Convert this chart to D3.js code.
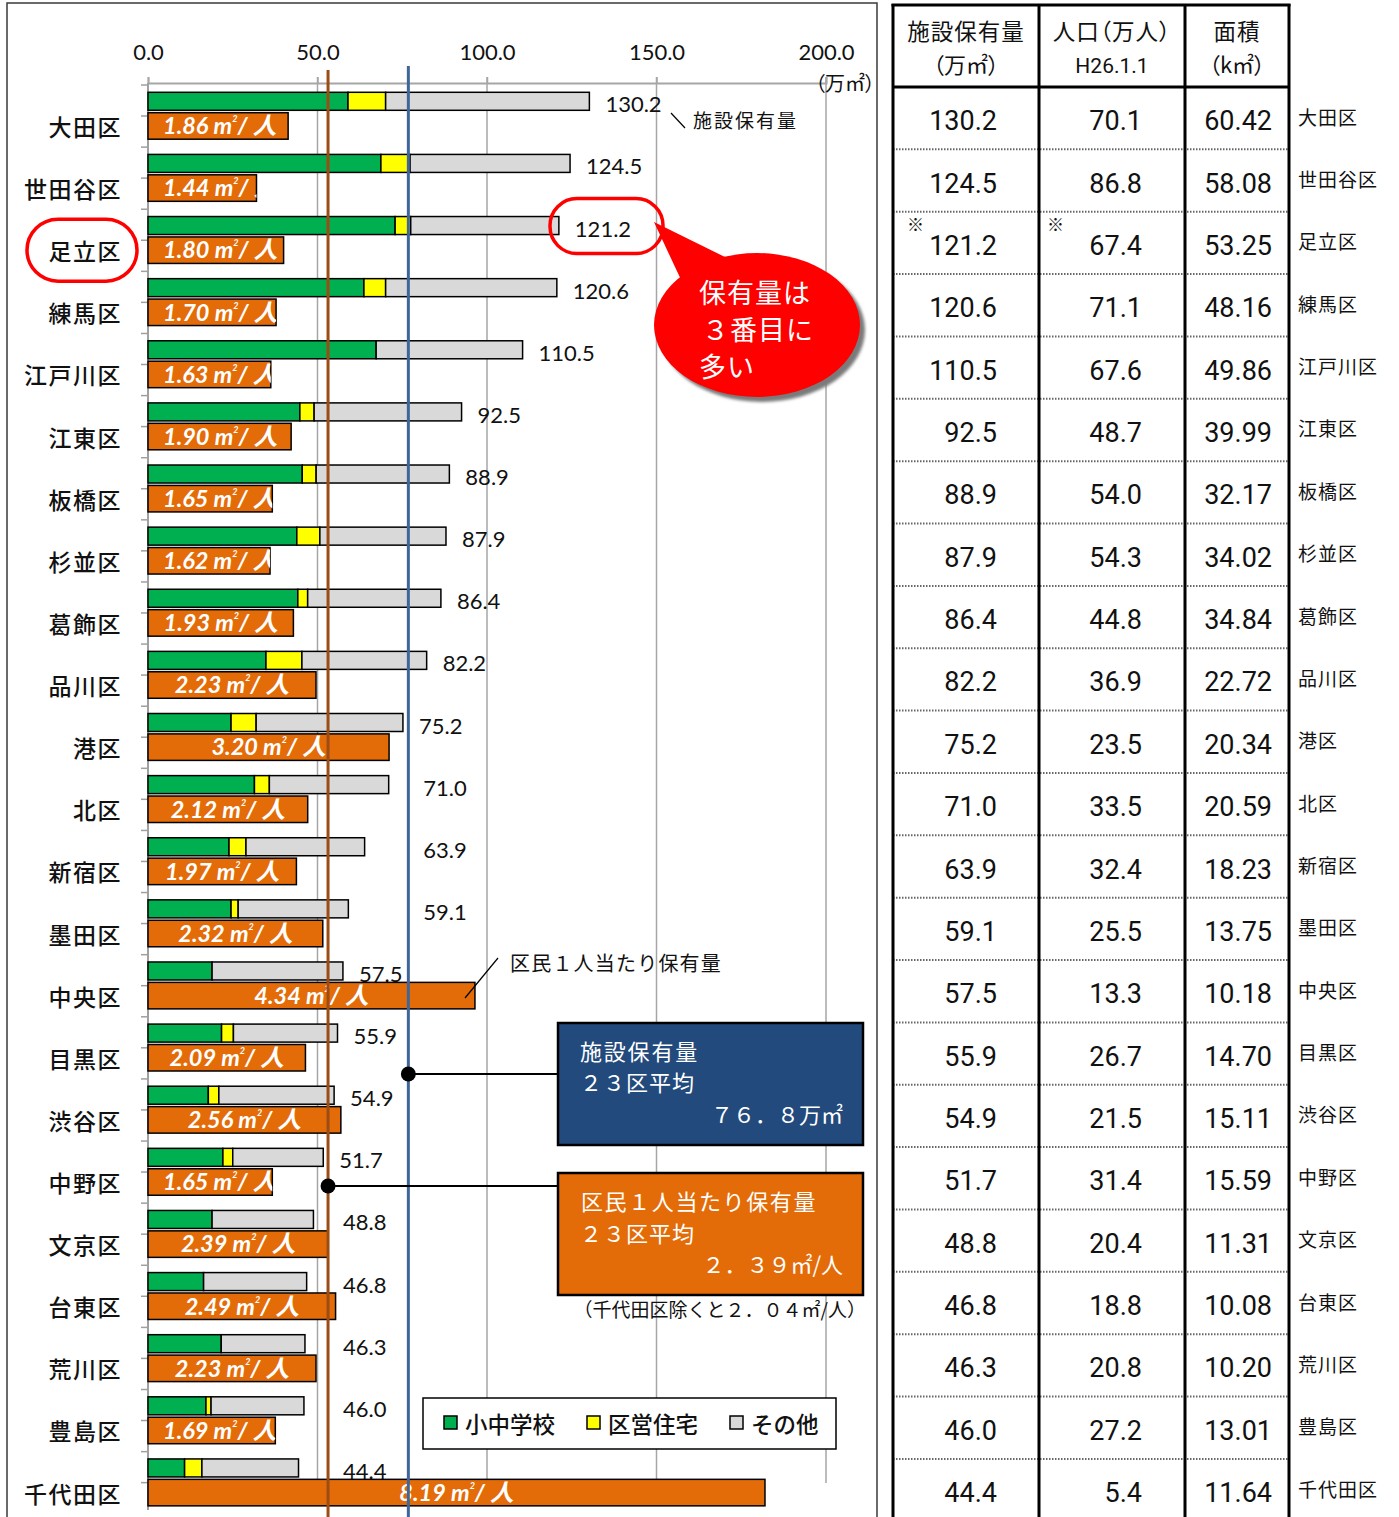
<!DOCTYPE html>
<html>
<head>
<meta charset="utf-8">
<script src="https://cdn.jsdelivr.net/npm/d3@7"></script>
<style>
  body { margin: 0; background: #fff; }
  svg { display: block; }
  .jp { font-family: "Noto Sans CJK JP", sans-serif; }
  .palt { font-feature-settings: "palt"; }
</style>
</head>
<body>
<svg id="chart" width="1399" height="1517"></svg>
<script>
// ---- data: 23 wards, sorted by facility floor area ----
const districts = ["大田区","世田谷区","足立区","練馬区","江戸川区","江東区","板橋区","杉並区","葛飾区","品川区","港区","北区","新宿区","墨田区","中央区","目黒区","渋谷区","中野区","文京区","台東区","荒川区","豊島区","千代田区"];
const totalArea   = [130.2,124.5,121.2,120.6,110.5,92.5,88.9,87.9,86.4,82.2,75.2,71.0,63.9,59.1,57.5,55.9,54.9,51.7,48.8,46.8,46.3,46.0,44.4];
const schoolArea  = [59.0,68.7,72.9,63.7,67.3,44.8,45.5,43.9,44.2,34.8,24.5,31.4,23.9,24.5,18.9,21.7,17.8,22.1,18.9,16.4,21.6,17.1,10.8];
const housingArea = [11.1,8.6,4.6,6.4,0,4.2,4.1,6.8,2.9,10.6,7.4,4.4,5.0,2.1,0,3.5,3.1,2.9,0,0,0,1.5,5.1];
const perCapita   = [1.86,1.44,1.80,1.70,1.63,1.90,1.65,1.62,1.93,2.23,3.20,2.12,1.97,2.32,4.34,2.09,2.56,1.65,2.39,2.49,2.23,1.69,8.19];
const population  = [70.1,86.8,67.4,71.1,67.6,48.7,54.0,54.3,44.8,36.9,23.5,33.5,32.4,25.5,13.3,26.7,21.5,31.4,20.4,18.8,20.8,27.2,5.4];
const landArea    = [60.42,58.08,53.25,48.16,49.86,39.99,32.17,34.02,34.84,22.72,20.34,20.59,18.23,13.75,10.18,14.70,15.11,15.59,11.31,10.08,10.20,13.01,11.64];
const xTicks = [0, 50, 100, 150, 200];
const perCapitaMax = 9;            // secondary scale for the per-person bars
const avgTotal = 76.8;             // 23-ward average floor area
const avgPerCapita = 2.39;         // 23-ward average per person
const avgPerCapitaExChiyoda = "２．０４";
const seriesKeys = ["school", "housing", "other"];
const seriesNames = ["小中学校", "区営住宅", "その他"];
const seriesColors = ["#00b050", "#ffff00", "#d9d9d9"];
const tableHeaders = [["施設保有量", "（万㎡）"], ["人口（万人）", "H26.1.1"], ["面積", "（k㎡）"]];
const markedWard = "足立区";
const bubbleLines = ["保有量は", "３番目に", "多い"];

const rows = districts.map((d, i) => ({
  district: d,
  school: schoolArea[i],
  housing: housingArea[i],
  other: +(totalArea[i] - schoolArea[i] - housingArea[i]).toFixed(1),
  total: totalArea[i],
  perCapita: perCapita[i],
  population: population[i],
  area: landArea[i]
}));

const svg = d3.select("#chart");
const JP = '"Noto Sans CJK JP", sans-serif';
const NUM = 'Lato, "Noto Sans CJK JP", sans-serif';

svg.append("defs").append("filter").attr("id", "soft")
  .append("feGaussianBlur").attr("stdDeviation", 1.5);

// ---- scales ----
const x = d3.scaleLinear().domain([0, 200]).range([148, 826]);
const xp = d3.scaleLinear().domain([0, perCapitaMax]).range([148, 826]);
const y = d3.scaleBand().domain(districts).range([83, 83 + 23 * 62.12]);
const ty = d3.scaleBand().domain(districts).range([87, 87 + 23 * 62.36]);
const greenOff = 9.3, greenH = 18, orangeOff = 29.7, orangeH = 26.5;

// ---- left panel frame ----
svg.append("rect").attr("x", 7).attr("y", 3).attr("width", 870).attr("height", 1540)
  .attr("fill", "#fff").attr("stroke", "#3a3a3a").attr("stroke-width", 1.5);

// gridlines
svg.append("g").selectAll("line").data(xTicks.filter(d => d > 0)).join("line")
  .attr("x1", d => x(d)).attr("x2", d => x(d)).attr("y1", 77).attr("y2", 1483)
  .attr("stroke", "#a6a6a6").attr("stroke-width", 1.5);

// top axis
const axisG = svg.append("g").attr("transform", "translate(0,83)")
  .call(d3.axisTop(x).tickValues(xTicks).tickFormat(d3.format(".1f")).tickSize(6).tickPadding(17));
axisG.select(".domain").attr("stroke", "#a6a6a6").attr("stroke-width", 2);
axisG.selectAll(".tick line").attr("stroke", "#a6a6a6").attr("stroke-width", 1.5);
axisG.selectAll(".tick text").attr("font-family", NUM).attr("font-size", 22).attr("fill", "#111");
svg.append("text").attr("class", "jp palt").attr("x", 875).attr("y", 91).attr("text-anchor", "end")
  .attr("font-size", 20).attr("fill", "#111").text("（万㎡）");

// category axis
svg.append("line").attr("x1", 148).attr("x2", 148).attr("y1", 83).attr("y2", 1510)
  .attr("stroke", "#a0a0a0").attr("stroke-width", 2);
const tickYs = districts.flatMap(d => [y(d) + 2, y(d) + 33]);
svg.append("g").selectAll("line").data(tickYs).join("line")
  .attr("x1", 141).attr("x2", 148).attr("y1", d => d).attr("y2", d => d)
  .attr("stroke", "#a0a0a0").attr("stroke-width", 1.5);
svg.append("g").selectAll("text").data(rows).join("text")
  .attr("x", 122).attr("y", d => y(d.district) + orangeOff + orangeH / 2)
  .attr("dominant-baseline", "central").attr("text-anchor", "end")
  .attr("font-family", JP).attr("font-weight", 500).attr("font-size", 23).attr("letter-spacing", 1.5)
  .attr("fill", "#111")
  .text(d => d.district);

// total value labels, nudged clear of the two average lines
const refXs = [x(avgTotal), xp(avgPerCapita)];
const valG = svg.append("g");
rows.forEach(r => {
  const t = valG.append("text").attr("y", y(r.district) + greenOff + greenH / 2 + 3 + 8)
    .attr("font-family", NUM).attr("font-size", 22).attr("fill", "#111").text(r.total.toFixed(1));
  const w = t.node().getComputedTextLength();
  let lx = x(r.total) + 16;
  refXs.forEach(rx => { if (lx < rx + 4 && lx + w > rx - 4) lx = rx + 15; });
  t.attr("x", lx);
});

// stacked facility bars
const stacked = d3.stack().keys(seriesKeys)(rows);
svg.append("g").selectAll("g").data(stacked).join("g")
  .attr("fill", (d, i) => seriesColors[i])
  .selectAll("rect").data(d => d).join("rect")
  .attr("x", d => x(d[0])).attr("width", d => x(d[1]) - x(d[0]))
  .attr("y", d => y(d.data.district) + greenOff).attr("height", greenH)
  .attr("stroke", "#000").attr("stroke-width", 1.5);

// per-person bars with clipped labels
const pcG = svg.append("g");
const defs = svg.select("defs");
rows.forEach((r, i) => {
  const by = y(r.district) + orangeOff, bw = xp(r.perCapita) - xp(0);
  defs.append("clipPath").attr("id", "clip" + i).append("rect")
    .attr("x", xp(0)).attr("y", by).attr("width", bw).attr("height", orangeH);
  pcG.append("rect").attr("x", xp(0)).attr("y", by).attr("width", bw).attr("height", orangeH)
    .attr("fill", "#e36c09").attr("stroke", "#000").attr("stroke-width", 1.5);
  const t = pcG.append("text").attr("clip-path", `url(#clip${i})`)
    .attr("y", by + orangeH / 2 + 8.3)
    .attr("font-family", NUM).attr("font-weight", 700).attr("font-style", "italic")
    .attr("font-size", 23.5).attr("fill", "#fff");
  t.append("tspan").text(r.perCapita.toFixed(2) + " m");
  t.append("tspan").attr("font-size", 9).attr("dy", -12).text("2");
  t.append("tspan").attr("dy", 12).text("/ 人");
  const w = t.node().getComputedTextLength();
  t.attr("x", Math.max(xp(0) + 15, xp(0) + bw / 2 - w / 2));
});

// average lines
svg.append("line").attr("x1", xp(avgPerCapita)).attr("x2", xp(avgPerCapita)).attr("y1", 70).attr("y2", 1517)
  .attr("stroke", "#9c4c14").attr("stroke-width", 3);
svg.append("line").attr("x1", x(avgTotal)).attr("x2", x(avgTotal)).attr("y1", 66).attr("y2", 1517)
  .attr("stroke", "#3f6599").attr("stroke-width", 3);

// callout boxes for the averages
function callout(lineX, cy, boxY, fill, lines) {
  svg.append("line").attr("x1", lineX).attr("x2", 558).attr("y1", cy).attr("y2", cy)
    .attr("stroke", "#000").attr("stroke-width", 2);
  svg.append("circle").attr("cx", lineX).attr("cy", cy).attr("r", 7.5).attr("fill", "#000");
  svg.append("rect").attr("x", 558).attr("y", boxY).attr("width", 305).attr("height", 122)
    .attr("fill", fill).attr("stroke", "#000").attr("stroke-width", 2.5);
  lines.forEach(l => {
    svg.append("text").attr("class", "jp").attr("x", l.x).attr("y", boxY + l.dy)
      .attr("text-anchor", l.anchor || "start").attr("font-size", 22).attr("letter-spacing", l.ls ?? 1.5)
      .attr("fill", "#fff").text(l.text);
  });
}
callout(x(avgTotal), 1074, 1023, "#234a7c", [
  { x: 580, dy: 37, text: "施設保有量", ls: 1.8 },
  { x: 580, dy: 68, text: "２３区平均", ls: 1 },
  { x: 843, dy: 100, text: "７６．８万㎡", anchor: "end", ls: 0 }
]);
callout(xp(avgPerCapita), 1186, 1173, "#e36c09", [
  { x: 581, dy: 37, text: "区民１人当たり保有量", ls: 1.6 },
  { x: 580, dy: 69, text: "２３区平均", ls: 1 },
  { x: 843, dy: 100, text: "２．３９㎡/人", anchor: "end", ls: 0 }
]);
svg.append("text").attr("class", "jp").attr("x", 866).attr("y", 1317).attr("text-anchor", "end")
  .attr("font-size", 19).attr("fill", "#111").text(`（千代田区除くと${avgPerCapitaExChiyoda}㎡/人）`);

// series annotations
svg.append("line").attr("x1", 671).attr("y1", 113).attr("x2", 685).attr("y2", 128).attr("stroke", "#000").attr("stroke-width", 1.2);
svg.append("text").attr("class", "jp").attr("x", 693).attr("y", 128).attr("font-size", 19)
  .attr("letter-spacing", 2).attr("fill", "#111").text("施設保有量");
svg.append("line").attr("x1", 465).attr("y1", 998).attr("x2", 498).attr("y2", 958).attr("stroke", "#000").attr("stroke-width", 1.2);
svg.append("text").attr("class", "jp").attr("x", 510).attr("y", 971).attr("font-size", 20)
  .attr("letter-spacing", 1.2).attr("fill", "#111").text("区民１人当たり保有量");

// legend
svg.append("rect").attr("x", 423).attr("y", 1398).attr("width", 413).attr("height", 51)
  .attr("fill", "#fff").attr("stroke", "#000").attr("stroke-width", 1.5);
const legX = [444, 587, 730];
seriesNames.forEach((n, i) => {
  svg.append("rect").attr("x", legX[i]).attr("y", 1416).attr("width", 13).attr("height", 13)
    .attr("fill", seriesColors[i]).attr("stroke", "#000").attr("stroke-width", 1.5);
  svg.append("text").attr("x", legX[i] + 21).attr("y", 1423).attr("dominant-baseline", "central")
    .attr("font-family", JP).attr("font-weight", 500).attr("font-size", 22.5).attr("fill", "#111").text(n);
});

// speech bubble
const tailPath = "M654,222 L727,258 L683,284 Z";
const sh = svg.append("g").attr("transform", "translate(5,5)").attr("fill", "#7a7a7a").attr("filter", "url(#soft)");
sh.append("ellipse").attr("cx", 757).attr("cy", 325).attr("rx", 103).attr("ry", 72);
const bub = svg.append("g").attr("fill", "#ff0000");
bub.append("path").attr("d", tailPath);
bub.append("ellipse").attr("cx", 757).attr("cy", 325).attr("rx", 103).attr("ry", 72);
bubbleLines.forEach((l, i) => {
  svg.append("text").attr("x", i === 1 ? 702 : 699).attr("y", 303 + i * 37)
    .attr("font-family", JP).attr("font-size", 27).attr("letter-spacing", 1).attr("fill", "#fff").text(l);
});

// highlight outlines
svg.append("rect").attr("x", 550).attr("y", y(markedWard) + greenOff + greenH / 2 - 27)
  .attr("width", 113).attr("height", 55).attr("rx", 27)
  .attr("fill", "none").attr("stroke", "#ff0000").attr("stroke-width", 3.5);
svg.append("rect").attr("x", 27).attr("y", y(markedWard) + orangeOff + orangeH / 2 - 31)
  .attr("width", 110).attr("height", 62).attr("rx", 31)
  .attr("fill", "none").attr("stroke", "#ff0000").attr("stroke-width", 3.5);

// ---- right-hand table ----
const colX = [893, 1039, 1185, 1289];
const colRight = [997, 1142, 1272];
const tb = svg.append("g");
districts.slice(1).forEach(d => {
  tb.append("line").attr("x1", colX[0]).attr("x2", colX[3]).attr("y1", ty(d)).attr("y2", ty(d))
    .attr("stroke", "#666").attr("stroke-width", 2).attr("stroke-dasharray", "1.5,1.5");
});
tb.append("line").attr("x1", colX[0] - 1.5).attr("x2", colX[3] + 1.5).attr("y1", 5).attr("y2", 5)
  .attr("stroke", "#000").attr("stroke-width", 3);
tb.append("line").attr("x1", colX[0]).attr("x2", colX[3]).attr("y1", 87).attr("y2", 87)
  .attr("stroke", "#000").attr("stroke-width", 3);
colX.forEach(cx => tb.append("line").attr("x1", cx).attr("x2", cx).attr("y1", 4).attr("y2", 1517)
  .attr("stroke", "#000").attr("stroke-width", 3));
tableHeaders.forEach((h, i) => {
  const cx = (colX[i] + colX[i + 1]) / 2;
  tb.append("text").attr("class", "jp palt").attr("x", cx).attr("y", 40).attr("text-anchor", "middle")
    .attr("font-size", 22.5).attr("letter-spacing", 1).attr("fill", "#111").text(h[0]);
  const second = tb.append("text").attr("x", cx).attr("y", 73).attr("text-anchor", "middle")
    .attr("font-size", 22).attr("fill", "#111").text(h[1]);
  if (i === 1) second.attr("font-family", 'Roboto, sans-serif').attr("font-size", 21);
  else second.attr("class", "jp palt");
});
rows.forEach(r => {
  const cy = ty(r.district) + ty.bandwidth() / 2;
  [r.total.toFixed(1), r.population.toFixed(1), r.area.toFixed(2)].forEach((v, j) => {
    tb.append("text").attr("x", colRight[j]).attr("y", cy + 12).attr("text-anchor", "end")
      .attr("font-family", "Roboto, sans-serif").attr("font-size", 27).attr("fill", "#111").text(v);
  });
  tb.append("text").attr("x", 1298).attr("y", cy - 2).attr("dominant-baseline", "central")
    .attr("font-family", JP).attr("font-size", 19).attr("letter-spacing", 1).attr("fill", "#111").text(r.district);
});
// footnote marks on the ward with adjusted figures
const my = ty(markedWard) + 19;
[907, 1047].forEach(mx => tb.append("text").attr("x", mx).attr("y", my).attr("font-family", JP)
  .attr("font-size", 17).attr("fill", "#111").text("※"));
</script>
</body>
</html>
